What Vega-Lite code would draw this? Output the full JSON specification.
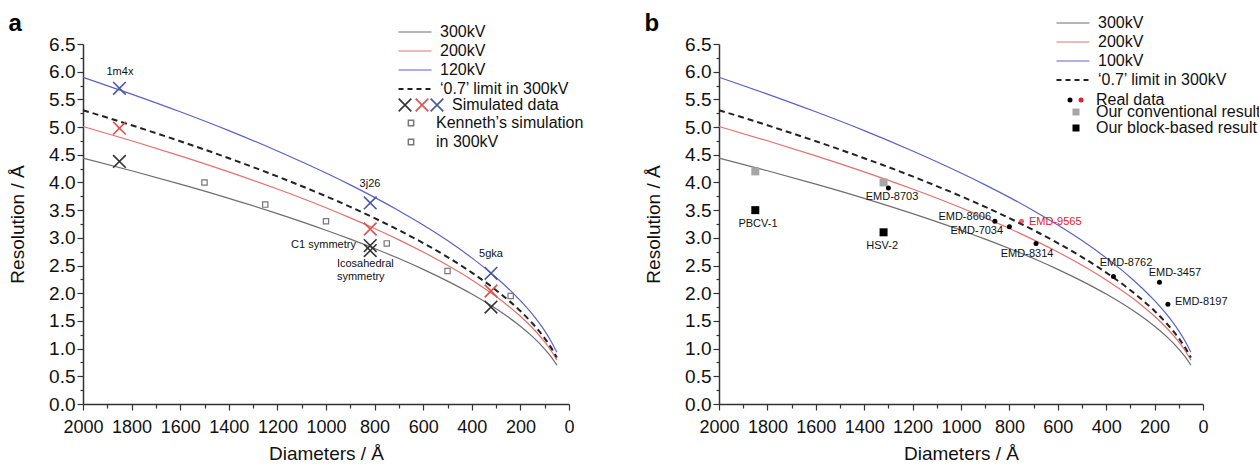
{
 "$schema": "https://vega.github.io/schema/vega-lite/v6.json",
 "padding": {"left": 8, "top": 12, "right": 5, "bottom": 0},
 "bounds": "flush",
 "spacing": 150,
 "datasets": {
  "curves": [
   {"s":"300kV","D":2000,"R":4.438},{"s":"300kV","D":1800,"R":4.211},{"s":"300kV","D":1600,"R":3.970},{"s":"300kV","D":1400,"R":3.714},{"s":"300kV","D":1200,"R":3.438},{"s":"300kV","D":1000,"R":3.138},{"s":"300kV","D":900,"R":2.977},{"s":"300kV","D":800,"R":2.807},{"s":"300kV","D":700,"R":2.626},{"s":"300kV","D":600,"R":2.431},{"s":"300kV","D":500,"R":2.219},{"s":"300kV","D":400,"R":1.985},{"s":"300kV","D":300,"R":1.719},{"s":"300kV","D":250,"R":1.569},{"s":"300kV","D":200,"R":1.404},{"s":"300kV","D":150,"R":1.216},{"s":"300kV","D":100,"R":0.992},{"s":"300kV","D":75,"R":0.860},{"s":"300kV","D":50,"R":0.702},
   {"s":"200kV","D":2000,"R":5.010},{"s":"200kV","D":1800,"R":4.753},{"s":"200kV","D":1600,"R":4.481},{"s":"200kV","D":1400,"R":4.192},{"s":"200kV","D":1200,"R":3.881},{"s":"200kV","D":1000,"R":3.543},{"s":"200kV","D":900,"R":3.361},{"s":"200kV","D":800,"R":3.169},{"s":"200kV","D":700,"R":2.964},{"s":"200kV","D":600,"R":2.744},{"s":"200kV","D":500,"R":2.505},{"s":"200kV","D":400,"R":2.241},{"s":"200kV","D":300,"R":1.940},{"s":"200kV","D":250,"R":1.771},{"s":"200kV","D":200,"R":1.584},{"s":"200kV","D":150,"R":1.372},{"s":"200kV","D":100,"R":1.120},{"s":"200kV","D":75,"R":0.970},{"s":"200kV","D":50,"R":0.792},
   {"s":"blue","D":2000,"R":5.899},{"s":"blue","D":1800,"R":5.596},{"s":"blue","D":1600,"R":5.276},{"s":"blue","D":1400,"R":4.936},{"s":"blue","D":1200,"R":4.569},{"s":"blue","D":1000,"R":4.171},{"s":"blue","D":900,"R":3.957},{"s":"blue","D":800,"R":3.731},{"s":"blue","D":700,"R":3.490},{"s":"blue","D":600,"R":3.231},{"s":"blue","D":500,"R":2.950},{"s":"blue","D":400,"R":2.638},{"s":"blue","D":300,"R":2.285},{"s":"blue","D":250,"R":2.086},{"s":"blue","D":200,"R":1.865},{"s":"blue","D":150,"R":1.616},{"s":"blue","D":100,"R":1.319},{"s":"blue","D":75,"R":1.142},{"s":"blue","D":50,"R":0.933},
   {"s":"dash","D":2000,"R":5.305},{"s":"dash","D":1800,"R":5.033},{"s":"dash","D":1600,"R":4.745},{"s":"dash","D":1400,"R":4.438},{"s":"dash","D":1200,"R":4.109},{"s":"dash","D":1000,"R":3.751},{"s":"dash","D":900,"R":3.559},{"s":"dash","D":800,"R":3.355},{"s":"dash","D":700,"R":3.138},{"s":"dash","D":600,"R":2.906},{"s":"dash","D":500,"R":2.653},{"s":"dash","D":400,"R":2.373},{"s":"dash","D":300,"R":2.055},{"s":"dash","D":250,"R":1.876},{"s":"dash","D":200,"R":1.678},{"s":"dash","D":150,"R":1.453},{"s":"dash","D":100,"R":1.186},{"s":"dash","D":75,"R":1.027},{"s":"dash","D":50,"R":0.839}
  ]
 },
 "config": {
  "font": "Liberation Sans",
  "view": {"stroke": null},
  "axis": {"grid": false, "domainColor": "#333", "domainWidth": 1.5, "tickColor": "#333", "tickWidth": 1.2, "labelFont": "Liberation Sans", "labelFontSize": 18, "labelColor": "#111", "titleFont": "Liberation Sans", "titleFontSize": 19, "titleFontWeight": "normal", "titleColor": "#111", "labelOverlap": false, "labelFlush": false},
  "legend": {"labelFont": "Liberation Sans", "labelFontSize": 16, "labelColor": "#111", "padding": 0, "orient": "none", "labelLimit": 400},
  "title": {"font": "Liberation Sans", "fontSize": 24, "fontWeight": "bold", "anchor": "start", "frame": "bounds", "color": "#000"},
  "text": {"font": "Liberation Sans"}
 },
 "resolve": {"scale": {"x": "independent", "y": "independent", "color": "independent", "opacity": "independent", "size": "independent", "strokeWidth": "independent", "shape": "independent", "fill": "independent", "stroke": "independent"}},
 "hconcat": [
  {
   "width": 486, "height": 360,
   "title": {"text": "a", "offset": -12},
   "encoding": {
    "x": {"field": "D", "type": "quantitative", "scale": {"domain": [0, 2000], "reverse": true, "nice": false, "zero": false},
     "axis": {"title": "Diameters / Å", "values": [0,100,200,300,400,500,600,700,800,900,1000,1100,1200,1300,1400,1500,1600,1700,1800,1900,2000], "labelExpr": "datum.value % 200 == 0 ? format(datum.value, 'd') : ''", "tickSize": {"condition": {"test": "datum.value % 200 == 0", "value": 6}, "value": 4}, "labelPadding": 8, "titlePadding": 8}},
    "y": {"field": "R", "type": "quantitative", "scale": {"domain": [0, 6.5], "nice": false},
     "axis": {"title": "Resolution / Å", "values": [0,0.25,0.5,0.75,1,1.25,1.5,1.75,2,2.25,2.5,2.75,3,3.25,3.5,3.75,4,4.25,4.5,4.75,5,5.25,5.5,5.75,6,6.25,6.5], "labelExpr": "round(datum.value*4) % 2 == 0 ? format(datum.value, '.1f') : ''", "tickSize": {"condition": {"test": "round(datum.value*4) % 2 == 0", "value": 6}, "value": 3}, "labelPadding": 2, "labelFontSize": 19, "titlePadding": 21}}
   },
   "layer": [
    {
     "data": {"name": "curves"},
     "transform": [{"filter": "datum.s != 'dash'"}],
     "mark": {"type": "line", "interpolate": "monotone", "strokeWidth": 1.2},
     "encoding": {
      "color": {"field": "s", "type": "nominal", "scale": {"domain": ["300kV", "200kV", "blue", "dash"], "range": ["#6e6e6e", "#e8706c", "#5b62c6", "#222222"]},
       "legend": {"title": null, "orient": "none", "legendX": 324, "legendY": -20, "symbolType": "M-3,0H3", "symbolSize": 121, "labelOffset": 17, "rowPadding": 3,
        "labelExpr": "datum.label == 'blue' ? '120kV' : datum.label == 'dash' ? '‘0.7’ limit in 300kV' : datum.label",
        "encode": {"symbols": {"update": {"strokeWidth": {"signal": "datum.value == 'dash' ? 2 : 1.2"}, "strokeDash": {"signal": "datum.value == 'dash' ? [5,4] : [1,0]"}}}}}}
     }
    },
    {
     "data": {"name": "curves"},
     "transform": [{"filter": "datum.s == 'dash'"}],
     "mark": {"type": "line", "interpolate": "monotone", "strokeWidth": 2, "strokeDash": [6, 4]},
     "encoding": {"color": {"field": "s", "type": "nominal"}}
    },
    {
     "data": {"values": [{"D":1500,"R":4.0},{"D":1250,"R":3.6},{"D":1000,"R":3.3},{"D":750,"R":2.9},{"D":500,"R":2.4},{"D":240,"R":1.95}]},
     "mark": {"type": "point", "filled": false, "stroke": "#777", "strokeWidth": 1.2, "size": 28, "opacity": 1},
     "encoding": {
      "shape": {"datum": "Kenneth’s simulation", "type": "nominal", "scale": {"domain": ["Kenneth’s simulation", "in 300kV"], "range": ["square", "square"]},
       "legend": {"title": null, "orient": "none", "legendX": 320, "legendY": 71, "symbolSize": 28, "labelOffset": 17, "rowPadding": 3,
        "encode": {"symbols": {"update": {"stroke": {"value": "#777"}, "fill": {"value": "transparent"}, "strokeWidth": {"value": 1.2}, "opacity": {"signal": "datum.value == 'in 300kV' ? 0 : 1"}}}}}}
     }
    },
    {
     "data": {"values": [{"D":1850,"R":5.7,"v":"120kV"},{"D":1850,"R":4.98,"v":"200kV"},{"D":1850,"R":4.38,"v":"300kV"},{"D":818,"R":3.63,"v":"120kV"},{"D":818,"R":3.16,"v":"200kV"},{"D":818,"R":2.86,"v":"300kV"},{"D":818,"R":2.77,"v":"300kV"},{"D":321,"R":2.36,"v":"120kV"},{"D":321,"R":2.04,"v":"200kV"},{"D":321,"R":1.75,"v":"300kV"}]},
     "mark": {"type": "point", "shape": "M-1,-1L1,1M-1,1L1,-1", "filled": false},
     "encoding": {
      "stroke": {"field": "v", "type": "nominal", "scale": {"domain": ["300kV", "200kV", "120kV"], "range": ["#333333", "#d9534f", "#4a56a6"]}, "legend": null},
      "opacity": {"datum": "Simulated data", "type": "nominal", "scale": {"type": "ordinal", "range": [1]},
       "legend": {"title": null, "orient": "none", "legendX": 314, "legendY": 53, "symbolType": "M-1,-1L1,1M-1,1L1,-1", "symbolSize": 160, "labelOffset": 39, "symbolStrokeColor": "#333333", "symbolFillColor": "transparent", "symbolStrokeWidth": 1.6, "symbolOpacity": 1,
        "encode": {"symbols": {"update": {"stroke": {"value": "#333333"}, "fill": {"value": "transparent"}, "strokeWidth": {"value": 1.6}, "opacity": {"value": 1}}}}}},
      "size": {"datum": "r", "type": "nominal", "scale": {"type": "ordinal", "range": [160]},
       "legend": {"title": null, "orient": "none", "legendX": 331, "legendY": 53, "symbolType": "M-1,-1L1,1M-1,1L1,-1", "labelExpr": "''", "symbolStrokeColor": "#d9534f", "symbolFillColor": "transparent", "symbolStrokeWidth": 1.6, "symbolOpacity": 1,
        "encode": {"symbols": {"update": {"stroke": {"value": "#d9534f"}, "fill": {"value": "transparent"}, "strokeWidth": {"value": 1.6}, "opacity": {"value": 1}}}}}},
      "strokeWidth": {"datum": "b", "type": "nominal", "scale": {"type": "ordinal", "range": [1.6]},
       "legend": {"title": null, "orient": "none", "legendX": 346, "legendY": 53, "symbolType": "M-1,-1L1,1M-1,1L1,-1", "symbolSize": 160, "labelExpr": "''", "symbolStrokeColor": "#4a56a6", "symbolFillColor": "transparent", "symbolStrokeWidth": 1.6, "symbolOpacity": 1,
        "encode": {"symbols": {"update": {"stroke": {"value": "#4a56a6"}, "fill": {"value": "transparent"}, "strokeWidth": {"value": 1.6}, "opacity": {"value": 1}}}}}}
     }
    },
    {
     "data": {"values": [{"t":"1m4x","D":1848,"R":5.99},{"t":"3j26","D":819,"R":3.97},{"t":"5gka","D":321,"R":2.71}]},
     "mark": {"type": "text", "fontSize": 11, "color": "#111", "align": "center", "baseline": "middle"},
     "encoding": {"text": {"field": "t"}}
    },
    {
     "data": {"values": [{"t":"C1 symmetry","D":877,"R":2.87}]},
     "mark": {"type": "text", "fontSize": 11, "color": "#111", "align": "right", "baseline": "middle"},
     "encoding": {"text": {"field": "t"}}
    },
    {
     "data": {"values": [{"t":"Icosahedral","D":955,"R":2.53},{"t":"symmetry","D":955,"R":2.29}]},
     "mark": {"type": "text", "fontSize": 11, "color": "#111", "align": "left", "baseline": "middle"},
     "encoding": {"text": {"field": "t"}}
    }
   ]
  },
  {
   "width": 484, "height": 360,
   "title": {"text": "b", "offset": -21},
   "encoding": {
    "x": {"field": "D", "type": "quantitative", "scale": {"domain": [0, 2000], "reverse": true, "nice": false, "zero": false},
     "axis": {"title": "Diameters / Å", "values": [0,100,200,300,400,500,600,700,800,900,1000,1100,1200,1300,1400,1500,1600,1700,1800,1900,2000], "labelExpr": "datum.value % 200 == 0 ? format(datum.value, 'd') : ''", "tickSize": {"condition": {"test": "datum.value % 200 == 0", "value": 6}, "value": 4}, "labelPadding": 8, "titlePadding": 8}},
    "y": {"field": "R", "type": "quantitative", "scale": {"domain": [0, 6.5], "nice": false},
     "axis": {"title": "Resolution / Å", "values": [0,0.25,0.5,0.75,1,1.25,1.5,1.75,2,2.25,2.5,2.75,3,3.25,3.5,3.75,4,4.25,4.5,4.75,5,5.25,5.5,5.75,6,6.25,6.5], "labelExpr": "round(datum.value*4) % 2 == 0 ? format(datum.value, '.1f') : ''", "tickSize": {"condition": {"test": "round(datum.value*4) % 2 == 0", "value": 6}, "value": 3}, "labelPadding": 2, "labelFontSize": 19, "titlePadding": 21}}
   },
   "layer": [
    {
     "data": {"name": "curves"},
     "transform": [{"filter": "datum.s != 'dash'"}],
     "mark": {"type": "line", "interpolate": "monotone", "strokeWidth": 1.2},
     "encoding": {
      "color": {"field": "s", "type": "nominal", "scale": {"domain": ["300kV", "200kV", "blue", "dash"], "range": ["#6e6e6e", "#e8706c", "#5b62c6", "#222222"]},
       "legend": {"title": null, "orient": "none", "legendX": 346, "legendY": -29, "symbolType": "M-3,0H3", "symbolSize": 121, "labelOffset": 17, "rowPadding": 3,
        "labelExpr": "datum.label == 'blue' ? '100kV' : datum.label == 'dash' ? '‘0.7’ limit in 300kV' : datum.label",
        "encode": {"symbols": {"update": {"strokeWidth": {"signal": "datum.value == 'dash' ? 2 : 1.2"}, "strokeDash": {"signal": "datum.value == 'dash' ? [5,4] : [1,0]"}}}}}}
     }
    },
    {
     "data": {"name": "curves"},
     "transform": [{"filter": "datum.s == 'dash'"}],
     "mark": {"type": "line", "interpolate": "monotone", "strokeWidth": 2, "strokeDash": [6, 4]},
     "encoding": {"color": {"field": "s", "type": "nominal"}}
    },
    {
     "data": {"values": [{"D":1850,"R":4.2,"k":"Our conventional result"},{"D":1320,"R":4.0,"k":"Our conventional result"},{"D":1850,"R":3.5,"k":"Our block-based result"},{"D":1320,"R":3.1,"k":"Our block-based result"}]},
     "mark": {"type": "point", "shape": "square", "filled": true, "size": 64, "opacity": 1},
     "encoding": {
      "fill": {"field": "k", "type": "nominal", "scale": {"domain": ["Our conventional result", "Our block-based result"], "range": ["#a6a6a6", "#000000"]},
       "legend": {"title": null, "orient": "none", "legendX": 349, "legendY": 60, "symbolType": "square", "symbolSize": 49, "labelOffset": 12, "rowPadding": 0}}
     }
    },
    {
     "data": {"values": [{"D":1300,"R":3.9},{"D":860,"R":3.3},{"D":800,"R":3.2},{"D":690,"R":2.9},{"D":370,"R":2.3},{"D":180,"R":2.2},{"D":145,"R":1.8}]},
     "mark": {"type": "point", "shape": "circle", "filled": true, "color": "#000000", "size": 25},
     "encoding": {
      "opacity": {"datum": "Real data", "type": "nominal", "scale": {"type": "ordinal", "range": [1]},
       "legend": {"title": null, "orient": "none", "legendX": 343, "legendY": 48, "symbolType": "circle", "symbolSize": 25, "labelOffset": 18,
        "encode": {"symbols": {"update": {"fill": {"value": "#000000"}, "stroke": {"value": "transparent"}, "opacity": {"value": 1}}}}}}
     }
    },
    {
     "data": {"values": [{"D":750,"R":3.3}]},
     "mark": {"type": "point", "shape": "circle", "filled": true, "color": "#e4202a"},
     "encoding": {
      "size": {"datum": "r", "type": "nominal", "scale": {"type": "ordinal", "range": [25]},
       "legend": {"title": null, "orient": "none", "legendX": 354, "legendY": 48, "symbolType": "circle", "labelExpr": "''", "symbolFillColor": "#e4202a", "symbolOpacity": 1,
        "encode": {"symbols": {"update": {"fill": {"value": "#e4202a"}, "stroke": {"value": "transparent"}, "opacity": {"value": 1}}}}}}
     }
    },
    {
     "data": {"values": [{"t":"EMD-8703","D":1285,"R":3.74},{"t":"EMD-8314","D":727,"R":2.71},{"t":"EMD-8762","D":318,"R":2.55},{"t":"EMD-3457","D":116,"R":2.36},{"t":"PBCV-1","D":1839,"R":3.25},{"t":"HSV-2","D":1326,"R":2.85}]},
     "mark": {"type": "text", "fontSize": 11, "color": "#111", "align": "center", "baseline": "middle"},
     "encoding": {"text": {"field": "t"}}
    },
    {
     "data": {"values": [{"t":"EMD-8606","D":876,"R":3.38},{"t":"EMD-7034","D":826,"R":3.12}]},
     "mark": {"type": "text", "fontSize": 11, "color": "#111", "align": "right", "baseline": "middle"},
     "encoding": {"text": {"field": "t"}}
    },
    {
     "data": {"values": [{"t":"EMD-8197","D":116,"R":1.84}]},
     "mark": {"type": "text", "fontSize": 11, "color": "#111", "align": "left", "baseline": "middle"},
     "encoding": {"text": {"field": "t"}}
    },
    {
     "data": {"values": [{"t":"EMD-9565","D":719,"R":3.29}]},
     "mark": {"type": "text", "fontSize": 11, "color": "#e4202a", "align": "left", "baseline": "middle"},
     "encoding": {"text": {"field": "t"}}
    }
   ]
  }
 ]
}
